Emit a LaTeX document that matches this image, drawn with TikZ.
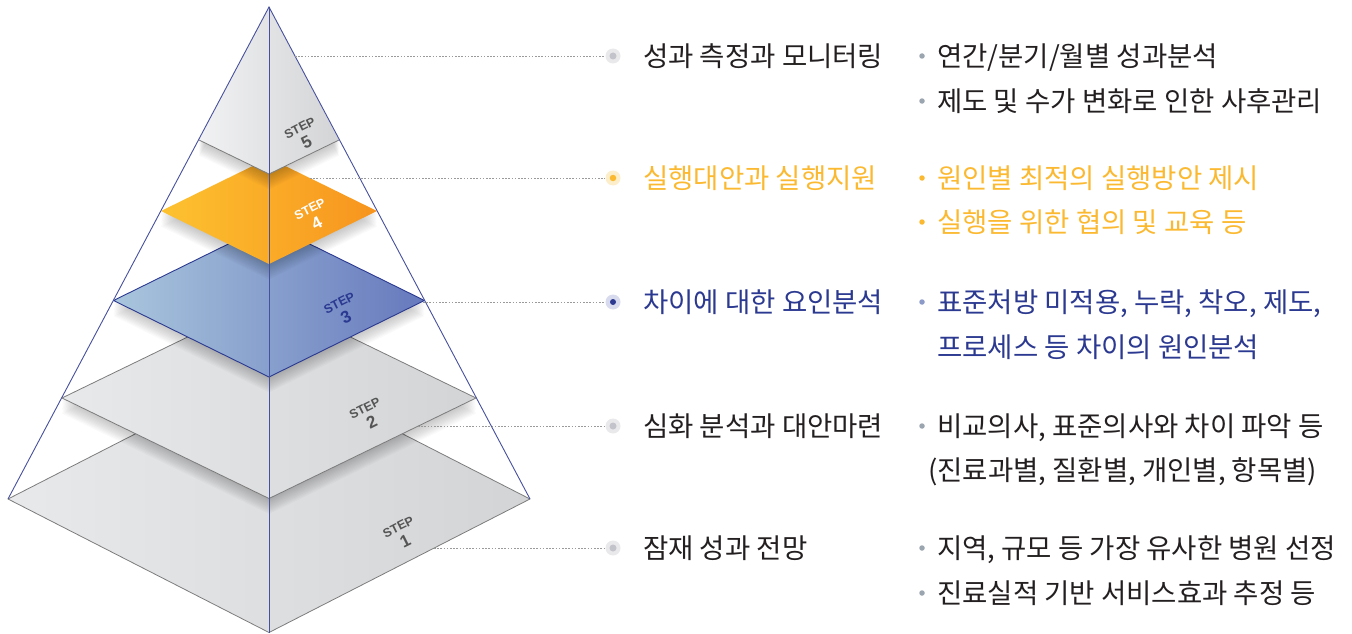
\documentclass[tikz,border=0pt]{standalone}
\usepackage{fontspec}
\newfontfamily\kr{Noto Sans CJK KR}
\newfontfamily\lbl{Liberation Sans}
\usetikzlibrary{calc}
\definecolor{gL}{HTML}{E8E9EB}
\definecolor{gR}{HTML}{D3D4D6}
\definecolor{edgegray}{HTML}{7C7C7C}
\definecolor{navyline}{HTML}{46509E}
\definecolor{navy}{HTML}{2B3990}
\definecolor{bL}{HTML}{A9C6DD}
\definecolor{bR}{HTML}{6679BD}
\definecolor{oL}{HTML}{FDC230}
\definecolor{oR}{HTML}{F7941E}
\definecolor{orangeT}{HTML}{FBB931}
\definecolor{txt}{HTML}{231F20}
\definecolor{dotgray}{HTML}{9A9A9A}
\definecolor{haloG}{HTML}{E9E9EB}
\definecolor{dotG}{HTML}{C3C3CB}
\definecolor{haloO}{HTML}{FDEECB}
\definecolor{haloB}{HTML}{D8DBEE}
\definecolor{bulG}{HTML}{9BA5AF}
\definecolor{bulB}{HTML}{8C9AC9}
\definecolor{lblgray}{HTML}{555555}
\tikzset{
  grayface/.style={left color=gL, right color=gR},
  grayedge/.style={draw=edgegray, line width=0.8pt, line join=round},
  outer/.style={draw=navyline, line width=0.9pt},
  conn/.style={draw=dotgray, line width=0.8pt, dash pattern=on 1.6pt off 1.6pt},
  steplbl/.style={font=\lbl\bfseries\fontsize{12.5}{13}\selectfont, rotate=26.57, inner sep=0pt, align=center},
  title/.style={font=\kr\fontsize{27.5}{30}\selectfont, anchor=base west, inner sep=0pt},
  item/.style={font=\kr\fontsize{27.5}{30}\selectfont, anchor=base west, inner sep=0pt},
  halo/.style={circle, inner sep=0pt, minimum size=15pt},
  mdot/.style={circle, inner sep=0pt, minimum size=7pt},
  bul/.style={circle, fill=#1, inner sep=0pt, minimum size=5.5pt},
}
\newcommand{\steptxt}[1]{STEP\\[4pt]{\fontsize{17}{17}\selectfont #1}}
\newcommand{\rhpath}[3]{({269-#2},#1) -- (269,{#1-#3}) -- ({269+#2},#1) -- (269,{#1+#3}) -- cycle}
\newcommand{\rhshadow}[3]{%
  \foreach \k in {1,...,12}{\fill[black, opacity=0.02, shift={(0,{1.3*\k})}] \rhpath{#1}{#2}{#3};}}
\begin{document}
\begin{tikzpicture}[x=1pt,y=-1pt]
\useasboundingbox (0,0) rectangle (1352,634);
% step 1
\shade[grayface] \rhpath{499}{261}{133.5};
\draw[grayedge] \rhpath{499}{261}{133.5};
% shadows and layers
\begin{scope}
\clip (269,7) -- (8,499) -- (269,632.5) -- (530,499) -- cycle;
\rhshadow{398}{207}{100.5}
\end{scope}
\shade[grayface] \rhpath{398}{207}{100.5};
\draw[grayedge] \rhpath{398}{207}{100.5};
\begin{scope}
\clip (269,7) -- (8,499) -- (269,632.5) -- (530,499) -- cycle;
\rhshadow{300.5}{155.5}{76.5}
\end{scope}
\shade[left color=bL, right color=bR] \rhpath{300.5}{155.5}{76.5};
\draw[draw=navy, line width=0.9pt, line join=round] \rhpath{300.5}{155.5}{76.5};
\begin{scope}
\clip (269,7) -- (8,499) -- (269,632.5) -- (530,499) -- cycle;
\rhshadow{211}{108}{53}
\end{scope}
\shade[left color=oL, right color=oR] \rhpath{211}{108}{53};
\begin{scope}
\clip (269,7) -- (8,499) -- (269,632.5) -- (530,499) -- cycle;
\foreach \k in {1,...,12}{\fill[black, opacity=0.02, shift={(0,{1.3*\k})}] (269,7) -- (199,140) -- (269,174) -- (339,140) -- cycle;}
\end{scope}
% step 5 piece
\shade[left color=gL!60!white, right color=gR] (269,7) -- (199,140) -- (269,174) -- (339,140) -- cycle;
\draw[grayedge] (199,140) -- (269,174) -- (339,140);
% pyramid outline and axis
\coordinate (apex) at (269,7);
\coordinate (bl) at (8,499);
\coordinate (br) at (530,499);
\coordinate (bot) at (269,632.5);
\draw[outer] (bl) -- (apex) -- (br);
\draw[outer, line width=0.8pt] (apex) -- (bot);
% step labels
\node[steplbl, text=lblgray] (s5) at (303.5,135.5) {\steptxt{5}};
\node[steplbl, text=white] (s4) at (313.5,216.5) {\steptxt{4}};
\node[steplbl, text=navy] (s3) at (343,310.5) {\steptxt{3}};
\node[steplbl, text=lblgray] (s2) at (368.5,416) {\steptxt{2}};
\node[steplbl, text=lblgray] (s1) at (402,534.5) {\steptxt{1}};
% connector start points
\coordinate (c5) at (295,56);
\coordinate (c4) at (310,178);
\coordinate (c3) at (423,302);
\coordinate (c2) at (418,426);
\coordinate (c1) at (434,548);
% markers
\node[halo, fill=haloG] (m5) at (613,56) {};
\node[mdot, fill=dotG] (m5d) at (m5) {};
\node[halo, fill=haloO] (m4) at (613,178) {};
\node[mdot, fill=orangeT, minimum size=6.5pt] (m4d) at (m4) {};
\node[halo, fill=haloB] (m3) at (613,302) {};
\node[mdot, fill=navy, minimum size=6pt] (m3d) at (m3) {};
\node[halo, fill=haloG] (m2) at (613,426) {};
\node[mdot, fill=dotG] (m2d) at (m2) {};
\node[halo, fill=haloG] (m1) at (613,548) {};
\node[mdot, fill=dotG] (m1d) at (m1) {};
\draw[conn] (c5) -- (m5);
\draw[conn] (c4) -- (m4);
\draw[conn] (c3) -- (m3);
\draw[conn] (c2) -- (m2);
\draw[conn] (c1) -- (m1);
% titles
\node[title, text=txt] (t5) at (643,66.3) {성과 측정과 모니터링};
\node[title, text=orangeT] (t4) at (643,188.3) {실행대안과 실행지원};
\node[title, text=navy] (t3) at (643,312.3) {차이에 대한 요인분석};
\node[title, text=txt] (t2) at (643,436.3) {심화 분석과 대안마련};
\node[title, text=txt] (t1) at (643,558.3) {잠재 성과 전망};
% items
\node[bul=bulG] (b5a) at (922,56) {};
\node[item, text=txt] (i5a) at (937,66.3) {연간/분기/월별 성과분석};
\node[bul=bulG] (b5b) at (922,101) {};
\node[item, text=txt] (i5b) at (937,111.3) {제도 및 수가 변화로 인한 사후관리};
\node[bul=orangeT] (b4a) at (922,178) {};
\node[item, text=orangeT] (i4a) at (937,188.3) {원인별 최적의 실행방안 제시};
\node[bul=orangeT] (b4b) at (922,222) {};
\node[item, text=orangeT] (i4b) at (937,232.3) {실행을 위한 협의 및 교육 등};
\node[bul=bulB] (b3a) at (922,302) {};
\node[item, text=navy] (i3a) at (937,312.3) {표준처방 미적용, 누락, 착오, 제도,};
\node[item, text=navy] (i3b) at (937,357.3) {프로세스 등 차이의 원인분석};
\node[bul=bulG] (b2a) at (922,426) {};
\node[item, text=txt] (i2a) at (937,436.3) {비교의사, 표준의사와 차이 파악 등};
\node[item, text=txt] (i2b) at (928,480.3) {(진료과별, 질환별, 개인별, 항목별)};
\node[bul=bulG] (b1a) at (922,548) {};
\node[item, text=txt] (i1a) at (937,558.3) {지역, 규모 등 가장 유사한 병원 선정};
\node[bul=bulG] (b1b) at (922,593) {};
\node[item, text=txt] (i1b) at (937,603.3) {진료실적 기반 서비스효과 추정 등};
\end{tikzpicture}
\end{document}
